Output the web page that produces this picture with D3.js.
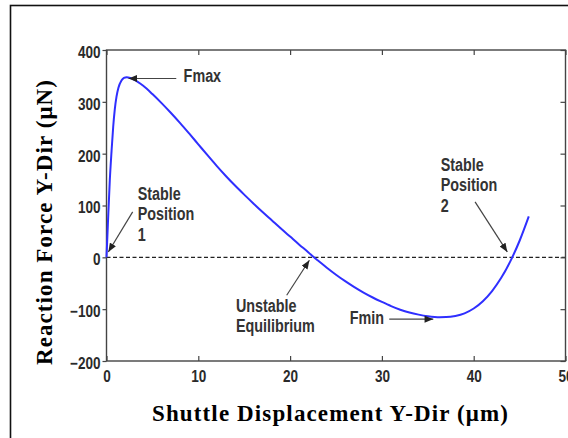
<!DOCTYPE html>
<html>
<head>
<meta charset="utf-8">
<script src="https://cdn.jsdelivr.net/npm/d3@7"></script>
<style>
  body { margin: 0; background: #fff; }
  svg { display: block; }
</style>
</head>
<body>
<script>
(function(){
   var width = 568;
   var height = 438;

   // force-displacement curve
   var displacement = [0, 0.15, 0.36, 0.55, 0.73, 0.9, 1.09, 1.3, 1.63, 1.9, 2.2, 2.6, 3, 4, 5, 6, 7, 8, 9, 10,
                       11, 12, 13, 14, 15, 16, 17, 18, 19, 20, 21, 22, 22.6, 23, 24, 25, 26, 27, 28, 29, 30,
                       31, 32, 33, 34, 35, 36.3, 37, 38, 39, 40, 41, 42, 43, 44, 45, 46];
   var force = [0, 64, 149, 205, 252, 285, 310, 327, 341, 346, 347.5, 346, 343, 331, 315, 297.5, 279, 259.5, 239, 218,
                197, 176.5, 157, 138.5, 121, 104, 87.5, 71.5, 55.5, 40, 24.5, 9.5, 0, -5.8, -20, -33.5, -46, -57.5, -68, -77.5, -86,
                -94, -101, -106.5, -110.5, -113.5, -115.5, -115.3, -113, -108, -98.7, -84.6, -65, -39.5, -7.3, 32, 79];

   var xTicks = [0, 10, 20, 30, 40, 50];
   var yTicks = [-200, -100, 0, 100, 200, 300, 400];

   var xTitle = "Shuttle Displacement Y-Dir (\u03bcm)";
   var yTitle = "Reaction Force Y-Dir (\u03bcN)";

   var noteText = [["Fmax"], ["Stable", "Position", "1"], ["Stable", "Position", "2"],
                   ["Unstable", "Equilibrium"], ["Fmin"]];

   var sansFont = "'Liberation Sans', Arial, sans-serif";
   var serifFont = "'Liberation Serif', 'Times New Roman', serif";

   var x = d3.scaleLinear().domain([0, 50]).range([106.5, 565.5]);
   var y = d3.scaleLinear().domain([-200, 400]).range([361, 50]);

   // squeeze text horizontally so it looks like a narrow face
   function narrow(sel, k){
       sel.each(function(){
           var w = this.getComputedTextLength();
           d3.select(this)
               .attr("textLength", w * k)
               .attr("lengthAdjust", "spacingAndGlyphs");
       });
   }

   var svg = d3.select("body").append("svg")
       .attr("width", width)
       .attr("height", height);

   svg.append("defs").append("marker")
       .attr("id", "head")
       .attr("viewBox", "0 0 10 8")
       .attr("refX", 10).attr("refY", 4)
       .attr("markerWidth", 9).attr("markerHeight", 7)
       .attr("markerUnits", "userSpaceOnUse")
       .attr("orient", "auto")
     .append("path")
       .attr("d", "M0,0L10,4L0,8Z")
       .attr("fill", "#222");

   // outer frame of the picture
   svg.append("rect")
       .attr("x", 10.5).attr("y", 5.5)
       .attr("width", 600).attr("height", 500)
       .attr("fill", "none")
       .attr("stroke", "#111")
       .attr("stroke-width", 1.6);

   // zero line
   svg.append("line")
       .attr("x1", x(0)).attr("x2", x(50))
       .attr("y1", y(0)).attr("y2", y(0))
       .attr("stroke", "#222")
       .attr("stroke-width", 1.3)
       .attr("stroke-dasharray", "4,2.5");

   function styleAxis(g){
       g.selectAll(".domain").remove();
       g.selectAll("line").attr("stroke", "#444").attr("stroke-width", 1.2);
       g.selectAll("text")
           .attr("fill", "#2a2a2a")
           .style("font-family", sansFont)
           .style("font-weight", "bold")
           .style("font-size", "16.5px");
   }

   var fmt = function(d){ return d < 0 ? "\u2212" + Math.abs(d) : d; };

   svg.append("g")
       .attr("transform", "translate(0," + y(-200) + ")")
       .call(d3.axisBottom(x).tickValues(xTicks).tickSize(-5).tickPadding(9).tickFormat(fmt))
       .call(styleAxis)
       .selectAll("text").call(narrow, 0.82);
   svg.append("g")
       .attr("transform", "translate(0," + y(400) + ")")
       .call(d3.axisTop(x).tickValues(xTicks).tickSize(-5).tickFormat(""))
       .call(styleAxis);
   svg.append("g")
       .attr("transform", "translate(" + x(0) + ",0)")
       .call(d3.axisLeft(y).tickValues(yTicks).tickSize(4).tickPadding(2).tickFormat(fmt))
       .call(styleAxis)
       .selectAll("text").attr("dy", "0.45em").call(narrow, 0.82);
   svg.append("g")
       .attr("transform", "translate(" + x(50) + ",0)")
       .call(d3.axisRight(y).tickValues(yTicks).tickSize(-5).tickFormat(""))
       .call(styleAxis);

   svg.append("rect")
       .attr("x", x(0)).attr("y", y(400))
       .attr("width", x(50) - x(0)).attr("height", y(-200) - y(400))
       .attr("fill", "none")
       .attr("stroke", "#444")
       .attr("stroke-width", 1.4);

   var points = displacement.map(function(d, i){ return {d: d, f: force[i]}; });
   var linefunc = d3.line()
       .x(function(p){ return x(p.d); })
       .y(function(p){ return y(p.f); })
       .curve(d3.curveMonotoneX);
   svg.append("path")
       .attr("d", linefunc(points))
       .attr("fill", "none")
       .attr("stroke", "#2f2fff")
       .attr("stroke-width", 2);

   // annotation placement, in data units
   var notePlace = [
       {tx: 8.4,  ty: 338,    from: [7.6, 345],     to: [2.4, 345]},
       {tx: 3.4,  ty: 111.5,  from: [2.85, 87.6],   to: [0.2, 10.4]},
       {tx: 36.4, ty: 166.7,  from: [40.15, 106.9], to: [43.66, 10.4]},
       {tx: 14.1, ty: -105.3, from: [19.63, -73.1], to: [22.1, -5.6]},
       {tx: 26.5, ty: -127.7, from: [30.8, -119.4], to: [35.6, -119.4]}
   ];

   notePlace.forEach(function(n, i){
       svg.append("line")
           .attr("x1", x(n.from[0])).attr("y1", y(n.from[1]))
           .attr("x2", x(n.to[0])).attr("y2", y(n.to[1]))
           .attr("stroke", "#444")
           .attr("stroke-width", 1.2)
           .attr("marker-end", "url(#head)");
       noteText[i].forEach(function(s, j){
           svg.append("text")
               .attr("x", x(n.tx))
               .attr("y", y(n.ty) + j * 20.5)
               .attr("fill", "#333")
               .style("font-family", sansFont)
               .style("font-weight", "bold")
               .style("font-size", "17.5px")
               .text(s)
               .call(narrow, 0.82);
       });
   });

   svg.append("text")
       .attr("x", 330).attr("y", 421)
       .attr("text-anchor", "middle")
       .attr("textLength", 356)
       .attr("lengthAdjust", "spacing")
       .style("font-family", serifFont)
       .style("font-weight", "bold")
       .style("font-size", "23px")
       .text(xTitle);

   svg.append("text")
       .attr("transform", "translate(52,222.5) rotate(-90)")
       .attr("text-anchor", "middle")
       .attr("textLength", 285)
       .attr("lengthAdjust", "spacing")
       .style("font-family", serifFont)
       .style("font-weight", "bold")
       .style("font-size", "23px")
       .text(yTitle);
})();
</script>
</body>
</html>
